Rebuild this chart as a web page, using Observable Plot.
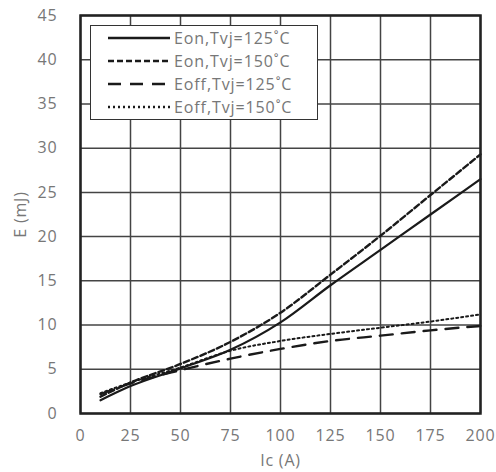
<!DOCTYPE html>
<html><head><meta charset="utf-8">
<script src="https://cdn.jsdelivr.net/npm/d3@7"></script>
<script src="https://cdn.jsdelivr.net/npm/@observablehq/plot@0.6"></script>
<style>
body{margin:0;background:#fff;font-family:"Open Sans",sans-serif;}
#wrap{position:relative;width:496px;height:472px;}
#legend{position:absolute;left:90px;top:25px;width:228px;height:95px;border:1.5px solid #333;background:#fff;box-sizing:border-box;}
.row{position:absolute;left:0;height:20px;display:flex;align-items:center;font-size:16px;letter-spacing:0.9px;color:#777;white-space:nowrap;}
.row svg{margin-left:17px;margin-right:4px;}
</style></head><body>
<div id="wrap"></div>
<script>
const ic = [10, 25, 50, 75, 100, 125, 150, 175, 200];
const eon125 = [1.5, 3.1, 5.1, 7.2, 10.3, 14.5, 18.5, 22.5, 26.5];
const eon150 = [1.9, 3.5, 5.6, 8.1, 11.4, 15.7, 20.1, 24.7, 29.3];
const eoff125 = [2.2, 3.4, 4.9, 6.2, 7.3, 8.2, 8.8, 9.4, 9.9];
const eoff150 = [2.3, 3.5, 5.2, 7.1, 8.2, 9.0, 9.7, 10.4, 11.2];
const seriesNames = ["Eon,Tvj=125˚C", "Eon,Tvj=150˚C", "Eoff,Tvj=125˚C", "Eoff,Tvj=150˚C"];
const seriesValues = [eon125, eon150, eoff125, eoff150];
const dashes = [null, "6,3", "13,9", "2,3"];
const widths = [2.2, 2.4, 2.4, 2];
const xTicks = [0, 25, 50, 75, 100, 125, 150, 175, 200];
const yTicks = [0, 5, 10, 15, 20, 25, 30, 35, 40, 45];

const data = seriesNames.map((n, i) => ic.map((x, j) => ({x, y: seriesValues[i][j], s: n})));

const plot = Plot.plot({
  width: 496, height: 472,
  marginLeft: 80, marginRight: 16, marginTop: 15, marginBottom: 59,
  style: {fontFamily: "Open Sans, sans-serif", fontSize: "16px", letterSpacing: "0.8px", color: "#777", background: "#fff"},
  x: {domain: [0, 200], ticks: xTicks, label: "Ic (A)", labelAnchor: "center", labelArrow: "none", labelOffset: 52, tickSize: 0, tickPadding: 16},
  y: {domain: [0, 45], ticks: yTicks, label: "E (mJ)", labelAnchor: "center", labelArrow: "none", labelOffset: 66, tickSize: 0, tickPadding: 23},
  marks: [
    Plot.gridX(xTicks, {stroke: "#444", strokeOpacity: 1, strokeWidth: 1.5}),
    Plot.gridY(yTicks, {stroke: "#444", strokeOpacity: 1, strokeWidth: 1.5}),
    ...data.map((d, i) => Plot.line(d, {x: "x", y: "y", stroke: "#1a1a1a", strokeWidth: widths[i], strokeDasharray: dashes[i], curve: "monotone-x"})),
    Plot.frame({stroke: "#222", strokeWidth: 2.5})
  ]
});
const wrap = document.getElementById("wrap");
wrap.appendChild(plot);
const lg = document.createElement("div");
lg.id = "legend";
seriesNames.forEach((n, i) => {
  const r = document.createElement("div");
  r.className = "row";
  r.style.top = (2 + i * 23) + "px";
  r.innerHTML = `<svg width="62" height="10"><line x1="0" x2="62" y1="5" y2="5" stroke="#1a1a1a" stroke-width="${widths[i] + 0.3}" ${dashes[i] ? `stroke-dasharray="${dashes[i]}"` : ""}/></svg><span>${n}</span>`;
  lg.appendChild(r);
});
wrap.appendChild(lg);
</script>
</body></html>
